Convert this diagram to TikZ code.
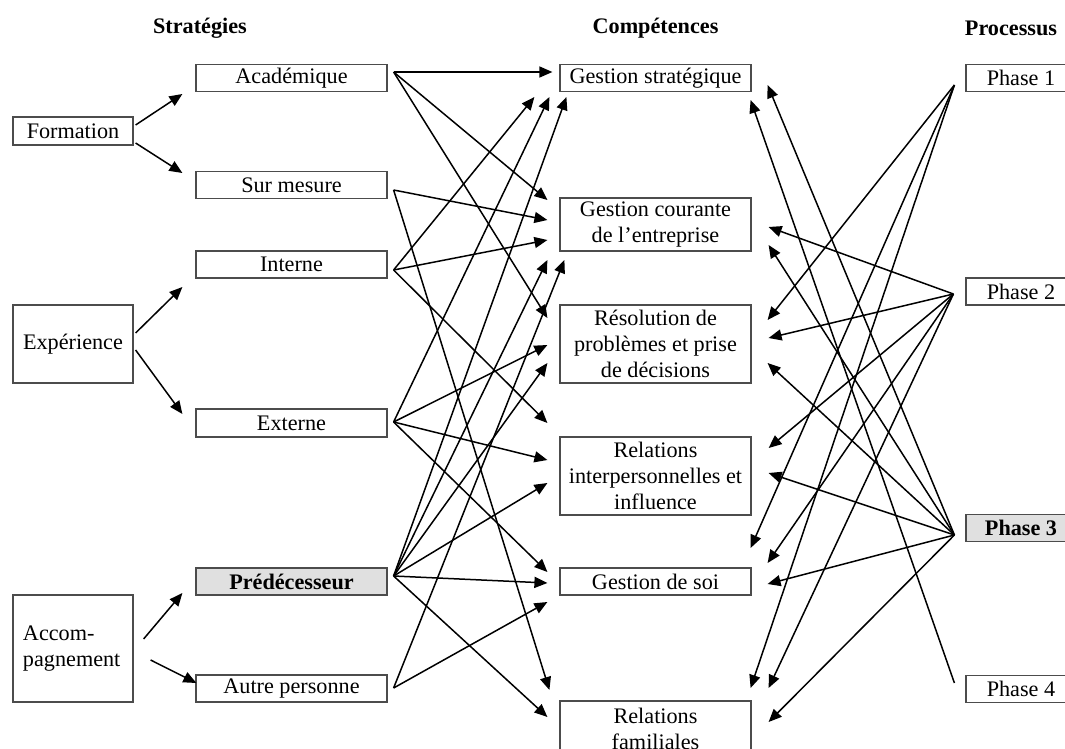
\documentclass[tikz,border=0pt]{standalone}
\usepackage{fontspec}
\setmainfont{Liberation Serif}
\usetikzlibrary{arrows.meta,calc}
% arrow from a fan point to a tip placed relative to a box anchor
\newcommand{\conn}[3]{\draw[arr] (#1) -- ($(#2)+(#3)$);}
\begin{document}
\begin{tikzpicture}[x=0.5pt,y=-0.5pt,
  font=\fontsize{11.1}{13}\selectfont,
  box/.style={draw=black!70, line width=0.6pt, fill=white, inner sep=0pt, align=center},
  hilite/.style={box, fill=black!12, font=\fontsize{11.1}{13}\selectfont\bfseries},
  heading/.style={font=\fontsize{11.1}{13}\selectfont\bfseries},
  leftbox/.style={box, minimum width=60pt},
  midbox/.style={box, minimum width=95.5pt},
  phasebox/.style={box, minimum width=55pt, minimum height=13.5pt},
  arr/.style={-{Triangle[length=6.5pt,width=5.5pt]}, line width=0.75pt},
]
\useasboundingbox (0,0) rectangle (1065,749);
\clip (0,0) rectangle (1065,749);

% column headings
\node[heading] (hS) at (200,28) {Stratégies};
\node[heading] (hC) at (655.5,28) {Compétences};
\node[heading] (hP) at (1011,28) {Processus};

% learning sources
\node[leftbox, minimum height=14pt] (form) at (73,131) {Formation};
\node[leftbox, minimum height=39pt] (exp) at (73,344) {Expérience};
\node[leftbox, minimum height=53.5pt, text width=50pt, align=left] (acc) at (73,648.5) {Accom-\\pagnement};

% strategies
\node[midbox, minimum height=13.5pt] (acad) at (291.5,78) {Académique};
\node[midbox, minimum height=13.5pt] (sur) at (291.5,185) {Sur mesure};
\node[midbox, minimum height=13.5pt] (int) at (291.5,264.5) {Interne};
\node[midbox, minimum height=14pt] (ext) at (291.5,423) {Externe};
\node[midbox, hilite, minimum height=13.5pt] (pred) at (291.5,581.5) {Prédécesseur};
\node[midbox, minimum height=13.5pt] (autre) at (291.5,688.5) {Autre personne};

% competences
\node[midbox, minimum height=13.5pt] (gs) at (655.5,78) {Gestion stratégique};
\node[midbox, minimum height=26.5pt] (gc) at (655.5,224.5) {Gestion courante\\de l’entreprise};
\node[midbox, minimum height=39pt] (res) at (655.5,344) {Résolution de\\problèmes et prise\\de décisions};
\node[midbox, minimum height=39pt] (ri) at (655.5,476) {Relations\\interpersonnelles et\\influence};
\node[midbox, minimum height=13.5pt] (gds) at (655.5,581.5) {Gestion de soi};
\node[midbox, minimum height=27.5pt] (rf) at (655.5,728.5) {Relations\\familiales};

% process phases
\node[phasebox] (p1) at (1021,78) {Phase 1};
\node[phasebox] (p2) at (1021,291.5) {Phase 2};
\node[phasebox, hilite] (p3) at (1021,528) {Phase 3};
\node[phasebox] (p4) at (1021,689) {Phase 4};

% sources to strategies
\draw[arr] ($(form.east)+(2,-6)$) -- ($(acad.west)+(-13,16)$);
\draw[arr] ($(form.east)+(2,12)$) -- ($(sur.west)+(-13,-12)$);
\draw[arr] ($(exp.east)+(2,-11)$) -- ($(int.west)+(-13,22.5)$);
\draw[arr] ($(exp.east)+(2,6)$) -- ($(ext.west)+(-13,-9)$);
\draw[arr] ($(acc.east)+(10,-9.5)$) -- ($(pred.west)+(-13,11.5)$);
\draw[arr] ($(acc.east)+(17,11.5)$) -- ($(autre.west)+(1,-5.5)$);

% fan points
\coordinate (acadF) at ($(acad.east)+(6,-6)$);
\coordinate (surF) at ($(sur.east)+(6,5)$);
\coordinate (intF) at ($(int.east)+(6,5.5)$);
\coordinate (extF) at ($(ext.east)+(6,-1)$);
\coordinate (predF) at ($(pred.east)+(6,-5.5)$);
\coordinate (autreF) at ($(autre.east)+(6,-0.5)$);
\coordinate (p1F) at ($(p1.west)+(-11,7)$);
\coordinate (p2F) at ($(p2.west)+(-12,2.5)$);
\coordinate (p3F) at ($(p3.west)+(-11,7)$);
\coordinate (p4F) at ($(p4.west)+(-11,-6)$);

% strategies to competences
\conn{acadF}{gs.west}{-7,-6}
\conn{acadF}{gc.west}{-12,-24.5}
\conn{acadF}{res.west}{-12,-26}
\conn{surF}{gc.west}{-12,-4.5}
\conn{surF}{rf.west}{-10,-38.5}
\conn{intF}{gs.west}{-25,19}
\conn{intF}{gc.west}{-12,15.5}
\conn{intF}{ri.west}{-12,-53}
\conn{extF}{gs.west}{-10,19}
\conn{extF}{res.west}{-12,1}
\conn{extF}{ri.west}{-12,-16}
\conn{extF}{gds.west}{-12,-9.5}
\conn{predF}{gs.west}{7,19}
\conn{predF}{gc.west}{-12,35.5}
\conn{predF}{res.west}{-12,19}
\conn{predF}{ri.west}{-12,7}
\conn{predF}{gds.west}{-12,1.5}
\conn{predF}{rf.west}{-12,-11.5}
\conn{autreF}{gc.west}{5,35.5}
\conn{autreF}{gds.west}{-12,20.5}

% phases to competences
\conn{p1F}{res.east}{16,-24}
\conn{p1F}{gds.east}{-1,-33.5}
\conn{p1F}{rf.east}{-1,-40.5}
\conn{p2F}{gc.east}{17,2.5}
\conn{p2F}{res.east}{17,-6}
\conn{p2F}{ri.east}{17,-28}
\conn{p2F}{gds.east}{16,-18.5}
\conn{p2F}{rf.east}{17,-40.5}
\conn{p3F}{gs.east}{16,7}
\conn{p3F}{gc.east}{17,20.5}
\conn{p3F}{res.east}{16,19}
\conn{p3F}{ri.east}{17,-3}
\conn{p3F}{gds.east}{16,2.5}
\conn{p3F}{rf.east}{17,-6.5}
\conn{p4F}{gs.east}{-1,22}
\end{tikzpicture}
\end{document}
